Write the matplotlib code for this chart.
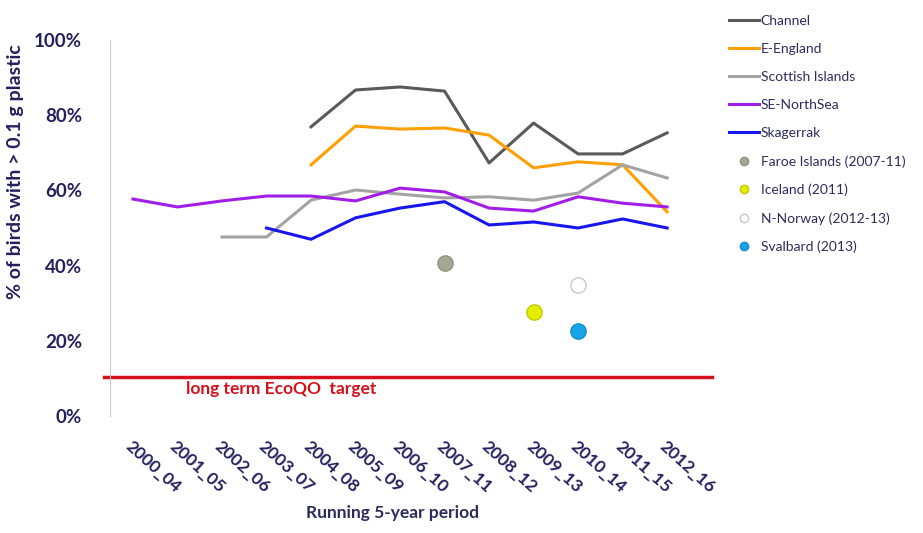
import numpy as np
import matplotlib.pyplot as plt
from matplotlib.lines import Line2D

plt.rcParams['font.family'] = ['Lato', 'DejaVu Sans']

periods = ['2000_04', '2001_05', '2002_06', '2003_07', '2004_08', '2005_09', '2006_10',
           '2007_11', '2008_12', '2009_13', '2010_14', '2011_15', '2012_16']
nan = np.nan
channel = [nan, nan, nan, nan, 76.9, 86.7, 87.5, 86.4, 67.3, 77.9, 69.7, 69.7, 75.3]
e_england = [nan, nan, nan, nan, 66.8, 77.1, 76.3, 76.6, 74.7, 66.0, 67.6, 66.8, 54.3]
scottish = [nan, nan, 47.6, 47.6, 57.4, 60.1, 59.0, 58.0, 58.3, 57.4, 59.3, 66.8, 63.3]
se_northsea = [57.7, 55.6, 57.2, 58.5, 58.5, 57.2, 60.6, 59.6, 55.3, 54.5, 58.3, 56.6, 55.6]
skagerrak = [nan, nan, nan, 50.0, 47.0, 52.7, 55.3, 57.0, 50.8, 51.6, 50.0, 52.4, 50.0]

# single survey points: (period index, value)
faroe = (7, 40.7)
iceland = (9, 27.7)
n_norway = (10, 34.8)
svalbard = (10, 22.6)
target = 10.5

navy = '#23205e'
x = np.arange(len(periods))

fig = plt.figure(figsize=(9.23, 5.33), dpi=100)
ax = fig.add_axes([0.119, 0.2195, 0.652, 0.7055])

series = [
    ('Channel', channel, '#5a5a5a'),
    ('E-England', e_england, '#ffa000'),
    ('Scottish Islands', scottish, '#a3a3a3'),
    ('SE-NorthSea', se_northsea, '#a21ee8'),
    ('Skagerrak', skagerrak, '#1616ee'),
]
handles = []
for name, vals, col in series:
    ax.plot(x, np.array(vals) / 100, color=col, lw=2.2)
    handles.append(Line2D([], [], color=col, lw=2.2, label=name))

points = [
    ('Faroe Islands (2007-11)', faroe, '#a2a894', '#8f9580'),
    ('Iceland (2011)', iceland, '#e4ee00', '#c8c800'),
    ('N-Norway (2012-13)', n_norway, '#ffffff', '#c8c8c8'),
    ('Svalbard (2013)', svalbard, '#16a4e6', '#1090d0'),
]
for name, (i, v), fc, ec in points:
    ax.plot([i], [v / 100], 'o', ms=11, mfc=fc, mec=ec, mew=1)
    handles.append(Line2D([], [], ls='none', marker='o', ms=6, mfc=fc, mec=ec, label=name))

ax.axhline(target / 100, color='#d4101c', lw=2.5, xmin=-0.01, clip_on=False)
ax.text(1.2, 0.072, 'long term EcoQO  target', color='#d4101c', fontsize=12.5,
        fontweight='bold', va='center')

ax.set_xlim(-0.52, 13.0)
ax.set_ylim(0, 1.0)
ax.set_yticks(np.arange(0, 1.01, 0.2))
ax.set_yticklabels(['%d%%' % v for v in range(0, 101, 20)], color=navy,
                   fontsize=13.5, fontweight='bold')
ax.set_xticks(x)
ax.set_xticklabels(periods, rotation=-42, ha='left', va='top', rotation_mode='anchor',
                   color=navy, fontsize=12.5, fontweight='bold')
ax.tick_params(axis='y', length=0, pad=20)
ax.tick_params(axis='x', length=0, pad=16)

for s in ['top', 'right', 'bottom']:
    ax.spines[s].set_visible(False)
ax.spines['left'].set_color('#c8c8c8')

ax.set_ylabel('% of birds with > 0.1 g plastic', color=navy, fontsize=14,
              fontweight='bold')
ax.yaxis.set_label_coords(-0.142, 0.65)
fig.text(0.425, 0.022, 'Running 5-year period', color='#2c2c5c', fontsize=12.5,
         fontweight='bold', ha='center', va='bottom')

fig.legend(handles=handles, loc='upper left', bbox_to_anchor=(0.776, 0.995),
           frameon=False, fontsize=10, labelspacing=1.15, handlelength=2.2,
           handletextpad=0.1, labelcolor='#2c2c5c')

fig.savefig('out.png', dpi=100)
